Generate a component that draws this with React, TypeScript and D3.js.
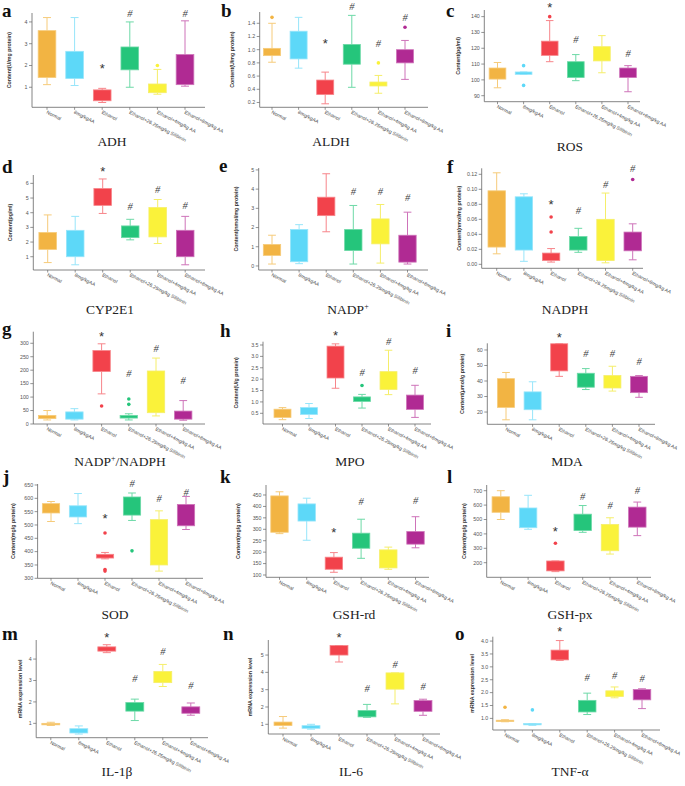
import React from "react";
import * as d3 from "d3";

const GROUPS = [
  "Normal",
  "8mg/kgAA",
  "Ethanol",
  "Ethanol+26.25mg/kg Silibinin",
  "Ethanol+4mg/kg AA",
  "Ethanol+8mg/kg AA",
];
const FILLS = ["#F2B443", "#5DD8F8", "#F2424B", "#25C57B", "#FAF23A", "#B02A93"];
const EDGES = ["#F6CB7A", "#97E5FA", "#F7858A", "#6DD9A7", "#F5EE6A", "#CE73B9"];

// box stats per group: [lower whisker, q1, q3, upper whisker]
const adhBox = [[1.12, 1.45, 3.6, 4.2], [1.08, 1.4, 2.65, 4.2], [0.3, 0.38, 0.88, 0.95], [1.0, 1.8, 2.85, 4.0], [0.68, 0.75, 1.15, 1.82], [1.05, 1.12, 2.5, 4.05]];
const adhOut = [[], [], [], [], [2.0], []];
const adhSig = ["", "", "*", "#", "", "#"];
const adhSigAt = [0, 0, 1.9, 4.4, 0, 4.4];
const adhTicks = [1, 2, 3, 4];

const aldhBox = [[0.81, 0.91, 1.02, 1.4], [0.72, 0.86, 1.28, 1.49], [0.18, 0.32, 0.54, 0.66], [0.43, 0.78, 1.08, 1.52], [0.34, 0.45, 0.51, 0.61], [0.55, 0.8, 1.0, 1.14]];
const aldhOut = [[1.49], [], [], [], [0.8], [1.34]];
const aldhSig = ["", "", "*", "#", "#", "#"];
const aldhSigAt = [0, 0, 1.1, 1.65, 1.1, 1.49];
const aldhTicks = [0.2, 0.4, 0.6, 0.8, 1.0, 1.2, 1.4];

const rosBox = [[95, 100.5, 107.5, 111], [103.5, 103.5, 105, 105], [111.5, 115.5, 124.5, 137.5], [99.5, 101.5, 111.5, 116], [104.5, 112, 121, 128], [92.5, 101.5, 107.5, 109]];
const rosOut = [[], [109, 96.5], [140], [], [], []];
const rosSig = ["", "", "*", "#", "", "#"];
const rosSigAt = [0, 0, 146, 125.3, 0, 116.8];
const rosTicks = [90, 100, 110, 120, 130, 140];

const cypBox = [[0.6, 1.5, 2.65, 3.85], [0.45, 1.0, 2.8, 3.75], [3.95, 4.5, 5.65, 6.3], [2.15, 2.3, 3.1, 3.55], [1.9, 2.35, 4.35, 4.9], [0.45, 1.0, 2.8, 3.75]];
const cypOut = [[], [], [], [], [], []];
const cypSig = ["", "", "*", "#", "#", "#"];
const cypSigAt = [0, 0, 6.84, 4.4, 5.6, 4.5];
const cypTicks = [1, 2, 3, 4, 5, 6];

const nadpBox = [[0.1, 0.55, 1.12, 1.6], [0.12, 0.22, 1.9, 2.15], [1.78, 2.62, 3.58, 4.8], [0.1, 0.8, 1.9, 3.15], [0.15, 1.15, 2.45, 3.2], [0.1, 0.2, 1.6, 2.8]];
const nadpOut = [[], [], [], [], [], []];
const nadpSig = ["", "", "", "#", "#", "#"];
const nadpSigAt = [0, 0, 0, 3.86, 3.9, 3.57];
const nadpTicks = [0, 1, 2, 3, 4, 5];

const nadphBox = [[0.014, 0.023, 0.098, 0.122], [0.004, 0.019, 0.09, 0.094], [0.003, 0.005, 0.015, 0.021], [0.016, 0.019, 0.037, 0.048], [0.002, 0.005, 0.06, 0.095], [0.006, 0.018, 0.043, 0.054]];
const nadphOut = [[], [], [0.043, 0.063], [], [], [0.113]];
const nadphSig = ["", "", "*", "#", "#", "#"];
const nadphSigAt = [0, 0, 0.081, 0.072, 0.106, 0.128];
const nadphTicks = [0, 0.02, 0.04, 0.06, 0.08, 0.1, 0.12];

const ratioBox = [[15, 20, 32, 50], [15, 18, 45, 57], [112, 195, 273, 298], [15, 22, 32, 38], [30, 42, 197, 245], [14, 18, 48, 87]];
const ratioOut = [[], [], [67], [73, 93], [], []];
const ratioSig = ["", "", "*", "#", "#", "#"];
const ratioSigAt = [0, 0, 327, 188, 281, 161];
const ratioTicks = [0, 50, 100, 150, 200, 250, 300];

const mpoBox = [[0.22, 0.32, 0.68, 0.75], [0.27, 0.45, 0.75, 0.93], [1.6, 2.05, 3.45, 3.55], [0.73, 1.02, 1.22, 1.33], [1.32, 1.55, 2.33, 3.27], [0.32, 0.67, 1.3, 1.73]];
const mpoOut = [[], [], [], [1.72], [], []];
const mpoSig = ["", "", "*", "#", "#", "#"];
const mpoSigAt = [0, 0, 3.95, 2.28, 3.65, 2.39];
const mpoTicks = [0.5, 1.0, 1.5, 2.0, 2.5, 3.0, 3.5];

const mdaBox = [[15, 23, 41.5, 45.5], [15, 21.5, 33, 39.5], [43, 46.5, 64, 64], [34.5, 36, 45, 48], [33.5, 35.5, 43.5, 49.5], [29.5, 32.5, 43, 43.5]];
const mdaOut = [[], [], [], [], [], []];
const mdaSig = ["", "", "*", "#", "#", "#"];
const mdaSigAt = [0, 0, 68.5, 57.9, 57.9, 52.5];
const mdaTicks = [20, 30, 40, 50, 60];

const sodBox = [[513, 545, 580, 588], [505, 530, 572, 618], [373, 376, 390, 397], [517, 537, 605, 620], [327, 350, 520, 553], [483, 497, 577, 607]];
const sodOut = [[], [], [470, 333, 327], [403], [], []];
const sodSig = ["", "", "*", "#", "#", "#"];
const sodSigAt = [0, 0, 525, 655, 600, 622];
const sodTicks = [300, 350, 400, 450, 500, 550, 600, 650];

const gshrdBox = [[281, 287, 446, 464], [252, 336, 411, 436], [112, 125, 178, 198], [173, 217, 283, 344], [125, 131, 210, 222], [219, 235, 290, 355]];
const gshrdOut = [[], [], [], [], [], []];
const gshrdSig = ["", "", "*", "#", "", "#"];
const gshrdSigAt = [0, 0, 287, 421, 0, 427];
const gshrdTicks = [100, 150, 200, 250, 300, 350, 400, 450];

const gshpxBox = [[500, 550, 658, 700], [432, 443, 580, 668], [138, 143, 212, 212], [411, 423, 537, 597], [260, 283, 466, 512], [388, 447, 586, 621]];
const gshpxOut = [[], [], [335], [], [], []];
const gshpxSig = ["", "", "*", "#", "#", "#"];
const gshpxSigAt = [0, 0, 422, 663, 600, 700];
const gshpxTicks = [200, 300, 400, 500, 600, 700];

const il1Box = [[0.9, 0.93, 1.0, 1.05], [0.5, 0.55, 0.75, 0.88], [4.3, 4.37, 4.57, 4.67], [1.13, 1.57, 1.97, 2.13], [2.72, 2.9, 3.42, 3.75], [1.38, 1.47, 1.77, 1.95]];
const il1Out = [[], [], [], [], [], []];
const il1Sig = ["", "", "*", "#", "#", "#"];
const il1SigAt = [0, 0, 5.04, 3.07, 4.35, 2.77];
const il1Ticks = [1, 2, 3, 4];

const il6Box = [[0.78, 0.93, 1.13, 1.45], [0.72, 0.77, 0.92, 1.0], [4.6, 5.0, 5.55, 5.55], [1.4, 1.43, 1.8, 2.15], [2.18, 3.03, 3.97, 3.97], [1.52, 1.75, 2.37, 2.45]];
const il6Out = [[], [], [], [], [], []];
const il6Sig = ["", "", "*", "#", "#", "#"];
const il6SigAt = [0, 0, 6.06, 3.04, 4.46, 3.2];
const il6Ticks = [1, 2, 3, 4, 5];

const tnfBox = [[0.87, 0.88, 0.93, 0.95], [0.73, 0.75, 0.8, 0.8], [3.25, 3.27, 3.65, 4.02], [1.15, 1.25, 1.7, 1.98], [1.8, 1.85, 2.07, 2.22], [1.38, 1.72, 2.12, 2.15]];
const tnfOut = [[1.43], [1.33], [], [], [], []];
const tnfSig = ["", "", "*", "#", "#", "#"];
const tnfSigAt = [0, 0, 4.39, 2.58, 2.68, 2.56];
const tnfTicks = [1.0, 1.5, 2.0, 2.5, 3.0, 3.5, 4.0];

const F_SANS = "'Liberation Sans', Arial, sans-serif";
const F_SERIF = "'Liberation Serif', 'Times New Roman', serif";

type Layout = {
  ax: number; ay0: number; ay1: number; axEnd: number; dom: [number, number];
  c0: number; step: number; fmt: string; letter: string; lx: number; ly: number;
  title: [string, boolean][]; tx: number; ty: number; ylab: string; ylx: number;
};

const PANELS: { L: Layout; box: number[][]; out: number[][]; sig: string[]; sigAt: number[]; ticks: number[] }[] = [
  { L: { ax: 32, ay0: 107.3, ay1: 13, axEnd: 205, dom: [0.08, 4.41], c0: 47, step: 27.6, fmt: "d", letter: "a", lx: 2, ly: 17, title: [["ADH", false]], tx: 112, ty: 146, ylab: "Content(U/mg protein)", ylx: 9 }, box: adhBox, out: adhOut, sig: adhSig, sigAt: adhSigAt, ticks: adhTicks },
  { L: { ax: 259.7, ay0: 107.3, ay1: 12, axEnd: 428, dom: [0.127, 1.571], c0: 272, step: 26.6, fmt: ".1f", letter: "b", lx: 221, ly: 17, title: [["ALDH", false]], tx: 331, ty: 146, ylab: "Content(U/mg protein)", ylx: 232 }, box: aldhBox, out: aldhOut, sig: aldhSig, sigAt: aldhSigAt, ticks: aldhTicks },
  { L: { ax: 484.3, ay0: 101.7, ay1: 10, axEnd: 640, dom: [86.2, 144.2], c0: 497.5, step: 26.1, fmt: "d", letter: "c", lx: 446, ly: 17, title: [["ROS", false]], tx: 570, ty: 151, ylab: "Content(pg/ml)", ylx: 458 }, box: rosBox, out: rosOut, sig: rosSig, sigAt: rosSigAt, ticks: rosTicks },
  { L: { ax: 33.3, ay0: 270, ay1: 175, axEnd: 205, dom: [0.095, 6.57], c0: 47.7, step: 27.5, fmt: "d", letter: "d", lx: 2, ly: 173, title: [["CYP2E1", false]], tx: 110, ty: 314, ylab: "Content(pg/ml)", ylx: 10 }, box: cypBox, out: cypOut, sig: cypSig, sigAt: cypSigAt, ticks: cypTicks },
  { L: { ax: 258.7, ay0: 270, ay1: 168, axEnd: 428, dom: [-0.21, 5.1], c0: 272, step: 27.1, fmt: "d", letter: "e", lx: 219, ly: 172, title: [["NADP", false], ["+", true]], tx: 348, ty: 314, ylab: "Content(nmol/mg protein)", ylx: 236 }, box: nadpBox, out: nadpOut, sig: nadpSig, sigAt: nadpSigAt, ticks: nadpTicks },
  { L: { ax: 481.7, ay0: 268.3, ay1: 168.3, axEnd: 643, dom: [-0.0053, 0.128], c0: 496.7, step: 27.2, fmt: ".2f", letter: "f", lx: 447, ly: 173, title: [["NADPH", false]], tx: 565, ty: 314, ylab: "Content(nmol/mg protein)", ylx: 459 }, box: nadphBox, out: nadphOut, sig: nadphSig, sigAt: nadphSigAt, ticks: nadphTicks },
  { L: { ax: 33.3, ay0: 424, ay1: 331.7, axEnd: 205, dom: [0, 343], c0: 47.2, step: 27.2, fmt: "d", letter: "g", lx: 2, ly: 335, title: [["NADP", false], ["+", true], ["/NADPH", false]], tx: 120, ty: 466, ylab: "", ylx: 10 }, box: ratioBox, out: ratioOut, sig: ratioSig, sigAt: ratioSigAt, ticks: ratioTicks },
  { L: { ax: 263, ay0: 424, ay1: 341.7, axEnd: 431, dom: [0.03, 3.645], c0: 282.5, step: 26.5, fmt: ".1f", letter: "h", lx: 220, ly: 337, title: [["MPO", false]], tx: 350, ty: 466, ylab: "Content(U/g protein)", ylx: 236 }, box: mpoBox, out: mpoOut, sig: mpoSig, sigAt: mpoSigAt, ticks: mpoTicks },
  { L: { ax: 487.3, ay0: 424.3, ay1: 343.3, axEnd: 655, dom: [12.1, 64.3], c0: 506, step: 26.6, fmt: "d", letter: "i", lx: 446, ly: 337, title: [["MDA", false]], tx: 567, ty: 466, ylab: "Content(μmol/g protein)", ylx: 462 }, box: mdaBox, out: mdaOut, sig: mdaSig, sigAt: mdaSigAt, ticks: mdaTicks },
  { L: { ax: 37.6, ay0: 578.3, ay1: 484, axEnd: 203, dom: [300, 653.7], c0: 51, step: 27, fmt: "d", letter: "j", lx: 3, ly: 483, title: [["SOD", false]], tx: 115, ty: 619, ylab: "Content(mg/g protein)", ylx: 13 }, box: sodBox, out: sodOut, sig: sodSig, sigAt: sodSigAt, ticks: sodTicks },
  { L: { ax: 266, ay0: 577.3, ay1: 485, axEnd: 429, dom: [90, 493.7], c0: 279.5, step: 27.2, fmt: "d", letter: "k", lx: 220, ly: 483, title: [["GSH-rd", false]], tx: 354, ty: 619, ylab: "Content(mg/g protein)", ylx: 238.3 }, box: gshrdBox, out: gshrdOut, sig: gshrdSig, sigAt: gshrdSigAt, ticks: gshrdTicks },
  { L: { ax: 486.7, ay0: 577.3, ay1: 485, axEnd: 651, dom: [98.6, 739.6], c0: 500.8, step: 27.3, fmt: "d", letter: "l", lx: 447, ly: 483, title: [["GSH-px", false]], tx: 570, ty: 619, ylab: "Content(mg/g protein)", ylx: 464.3 }, box: gshpxBox, out: gshpxOut, sig: gshpxSig, sigAt: gshpxSigAt, ticks: gshpxTicks },
  { L: { ax: 36.2, ay0: 737.7, ay1: 640, axEnd: 208, dom: [0.33, 4.89], c0: 50.8, step: 28, fmt: "d", letter: "m", lx: 2, ly: 640, title: [["IL-1β", false]], tx: 117, ty: 776, ylab: "mRNA expression level", ylx: 20 }, box: il1Box, out: il1Out, sig: il1Sig, sigAt: il1SigAt, ticks: il1Ticks },
  { L: { ax: 268.3, ay0: 734, ay1: 640, axEnd: 440, dom: [0.44, 5.87], c0: 283, step: 28, fmt: "d", letter: "n", lx: 223, ly: 640, title: [["IL-6", false]], tx: 351, ty: 776, ylab: "mRNA expression level", ylx: 250.6 }, box: il6Box, out: il6Out, sig: il6Sig, sigAt: il6SigAt, ticks: il6Ticks },
  { L: { ax: 492.8, ay0: 730, ay1: 636.7, axEnd: 660, dom: [0.55, 4.17], c0: 505, step: 27.4, fmt: ".1f", letter: "o", lx: 455, ly: 640, title: [["TNF-α", false]], tx: 570, ty: 776, ylab: "mRNA expression level", ylx: 472 }, box: tnfBox, out: tnfOut, sig: tnfSig, sigAt: tnfSigAt, ticks: tnfTicks },
];

function Panel({ L, box, out, sig, sigAt, ticks }: any) {
  const y = d3.scaleLinear().domain(L.dom).range([L.ay0, L.ay1]);
  const x = d3
    .scaleBand<string>()
    .domain(GROUPS)
    .range([L.c0 - L.step / 2, L.c0 + 5.5 * L.step])
    .paddingInner(0.36)
    .paddingOuter(0.18);
  const bw = x.bandwidth();
  const fmt = d3.format(L.fmt);
  const axisColor = "#666";
  return (
    <g>
      <text x={L.lx} y={L.ly} fontFamily={F_SERIF} fontWeight="bold" fontSize={19} fill="#111">
        {L.letter}
      </text>
      <line x1={L.ax} x2={L.ax} y1={L.ay0} y2={L.ay1} stroke={axisColor} strokeWidth={0.8} />
      <line x1={L.ax} x2={L.axEnd} y1={L.ay0} y2={L.ay0} stroke={axisColor} strokeWidth={0.8} />
      {ticks.map((t: number) => (
        <g key={t}>
          <line x1={L.ax - 3} x2={L.ax} y1={y(t)} y2={y(t)} stroke={axisColor} strokeWidth={0.7} />
          <text x={L.ax - 4.5} y={y(t)} dy="0.35em" textAnchor="end" fontFamily={F_SANS} fontSize={5.3} fill="#555">
            {fmt(t)}
          </text>
        </g>
      ))}
      {L.ylab && (
        <text
          transform={`translate(${L.ylx},${(L.ay0 + L.ay1) / 2}) rotate(-90)`}
          textAnchor="middle"
          dy="0.35em"
          fontFamily={F_SANS}
          fontWeight="bold"
          fontSize={5.3}
          fill="#333"
        >
          {L.ylab}
        </text>
      )}
      {GROUPS.map((g, i) => {
        const cx = (x(g) as number) + bw / 2;
        const [lo, q1, q3, hi] = box[i];
        const cap = bw * 0.45;
        const lx = cx - 1;
        const ly = L.ay0 + 6;
        return (
          <g key={g}>
            <line x1={cx} x2={cx} y1={y(lo)} y2={y(q1)} stroke={EDGES[i]} strokeWidth={1} />
            <line x1={cx} x2={cx} y1={y(q3)} y2={y(hi)} stroke={EDGES[i]} strokeWidth={1} />
            <line x1={cx - cap / 2} x2={cx + cap / 2} y1={y(lo)} y2={y(lo)} stroke={EDGES[i]} strokeWidth={1} />
            <line x1={cx - cap / 2} x2={cx + cap / 2} y1={y(hi)} y2={y(hi)} stroke={EDGES[i]} strokeWidth={1} />
            <rect
              x={cx - bw / 2}
              y={y(q3)}
              width={bw}
              height={Math.max(1.2, y(q1) - y(q3))}
              fill={FILLS[i]}
              stroke={EDGES[i]}
              strokeWidth={0.8}
            />
            {out[i].map((v: number, k: number) => (
              <circle key={k} cx={cx} cy={y(v)} r={1.8} fill={FILLS[i]} />
            ))}
            {sig[i] === "*" && (
              <text x={cx} y={y(sigAt[i])} dy={5} textAnchor="middle" fontFamily={F_SANS} fontSize={13} fill="#333">
                *
              </text>
            )}
            {sig[i] === "#" && (
              <text x={cx} y={y(sigAt[i])} dy={3.5} textAnchor="middle" fontFamily={F_SERIF} fontStyle="italic" fontSize={10.5} fill="#444">
                #
              </text>
            )}
            <line x1={cx} x2={cx} y1={L.ay0} y2={L.ay0 + 2.5} stroke={axisColor} strokeWidth={0.7} />
            <text
              x={lx}
              y={ly}
              transform={`rotate(27,${lx},${ly})`}
              fontFamily={F_SANS}
              fontSize={4.9}
              fill="#444"
            >
              {g}
            </text>
          </g>
        );
      })}
      <text x={L.tx} y={L.ty} textAnchor="middle" fontFamily={F_SERIF} fontSize={13.5} fill="#222">
        {L.title.map(([s, sup]: [string, boolean], k: number) =>
          sup ? (
            <tspan key={k} fontSize={8} dy={-5}>
              {s}
            </tspan>
          ) : (
            <tspan key={k} dy={k > 0 && L.title[k - 1][1] ? 5 : 0}>
              {s}
            </tspan>
          )
        )}
      </text>
    </g>
  );
}

export default function App() {
  return (
    <svg
      width={685}
      height={786}
      viewBox="0 0 685 786"
      style={{ position: "absolute", left: 0, top: 0, background: "#fff" }}
    >
      <rect width={685} height={786} fill="#fff" />
      {PANELS.map((p, i) => (
        <Panel key={i} {...p} />
      ))}
    </svg>
  );
}
